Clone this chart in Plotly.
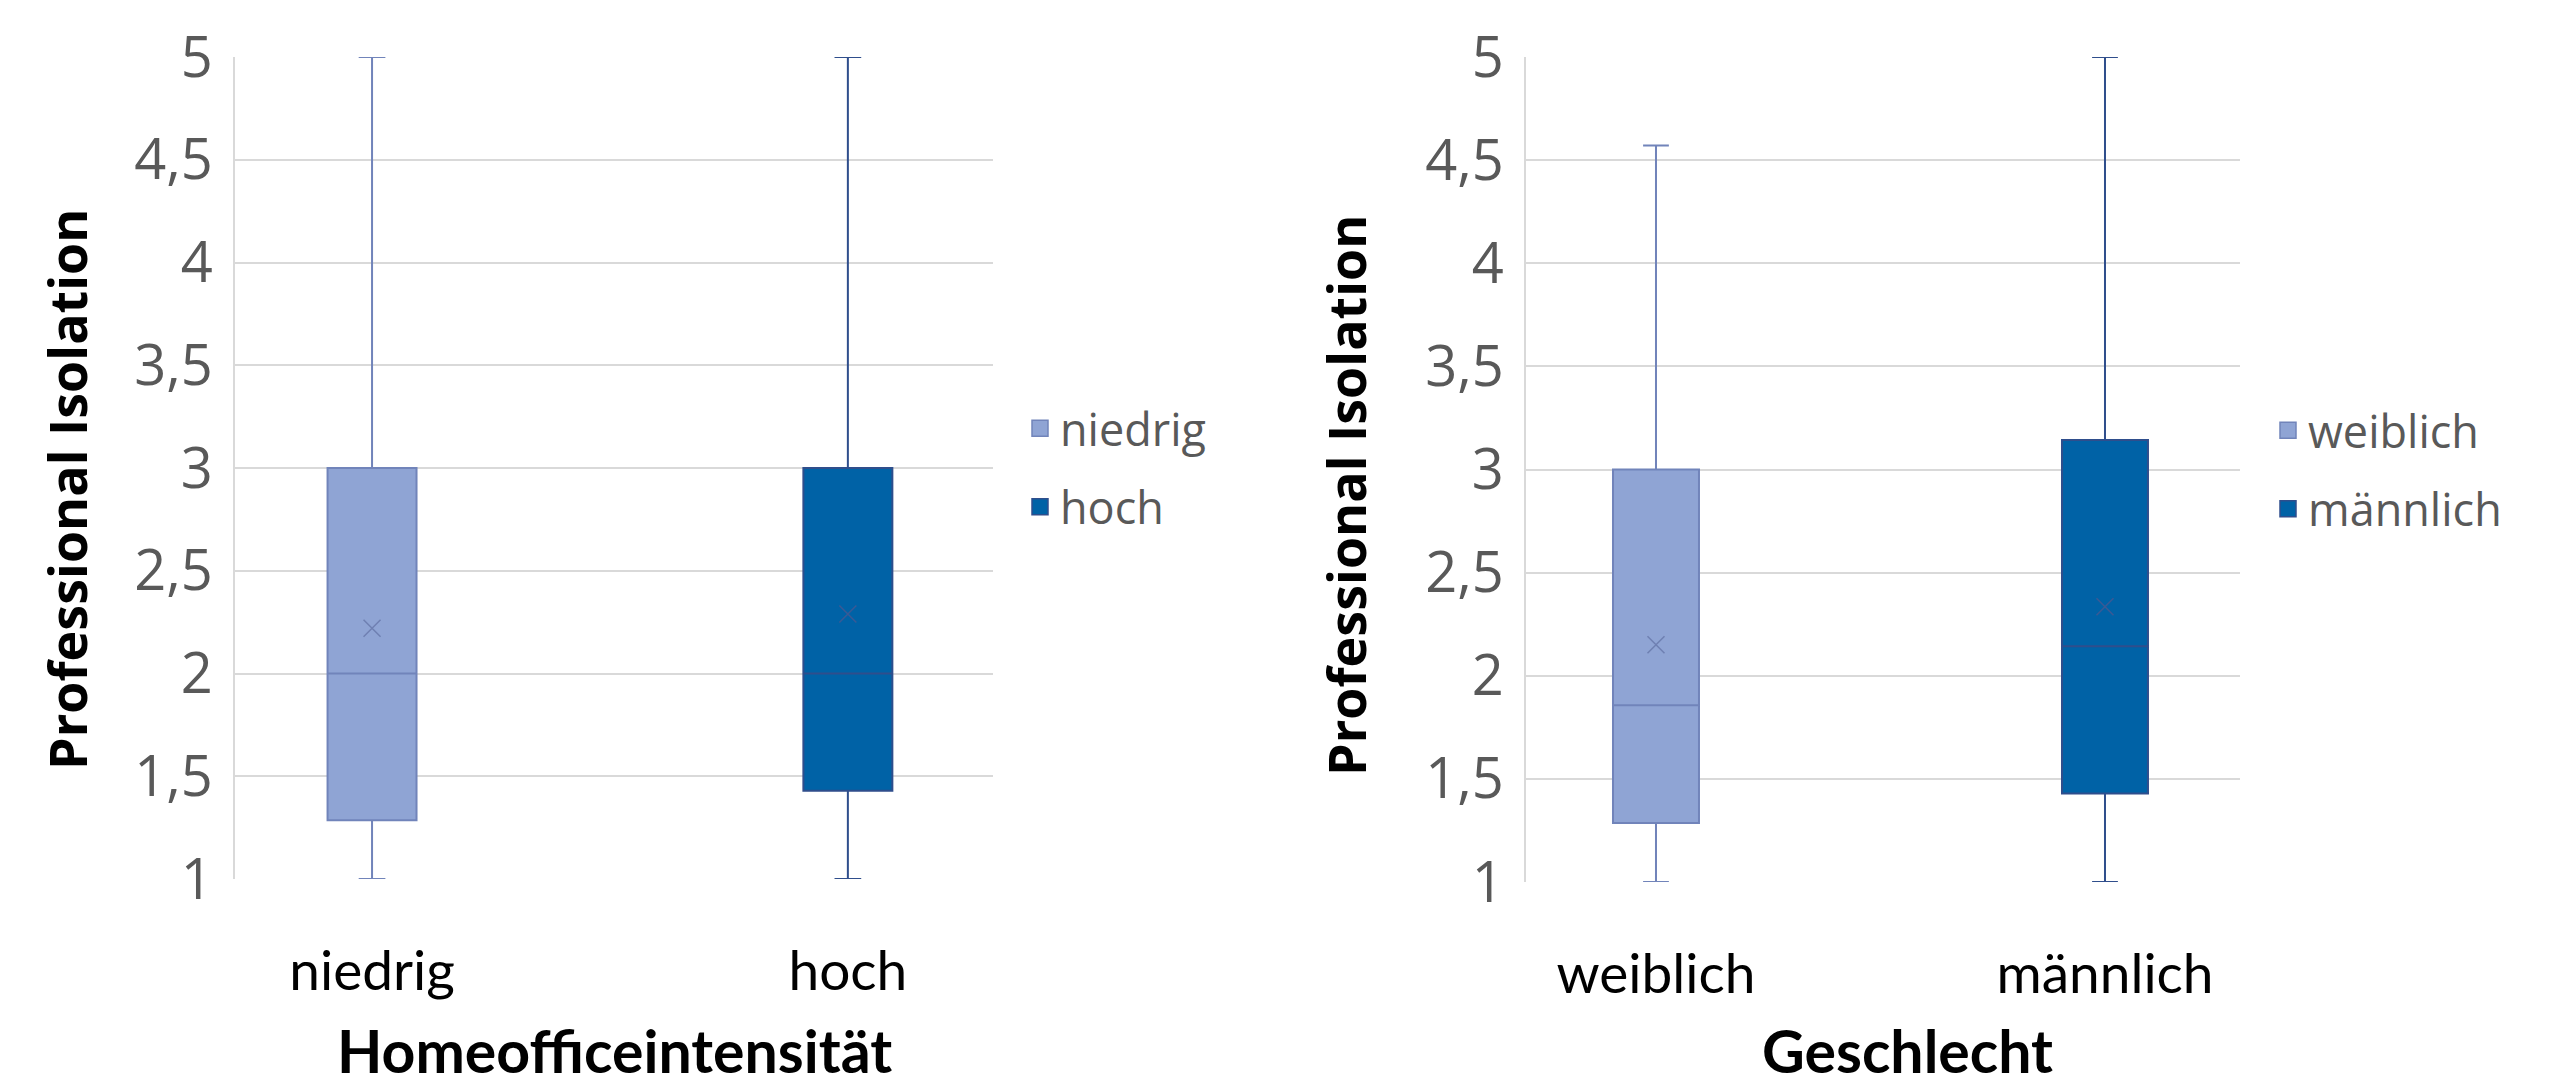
import plotly.graph_objects as go

# ---------------- data ----------------
groups_home = ["niedrig", "hoch"]
home_q1 = [1.286, 1.429]
home_median = [2.0, 2.0]
home_q3 = [3.0, 3.0]
home_lower = [1.0, 1.0]
home_upper = [5.0, 5.0]
home_mean = [2.22, 2.29]

groups_sex = ["weiblich", "männlich"]
sex_q1 = [1.286, 1.429]
sex_median = [1.857, 2.143]
sex_q3 = [3.0, 3.143]
sex_lower = [1.0, 1.0]
sex_upper = [4.571, 5.0]
sex_mean = [2.15, 2.335]

y_ticks = [1, 1.5, 2, 2.5, 3, 3.5, 4, 4.5, 5]
y_title = "Professional Isolation"
x_title_home = "Homeofficeintensität"
x_title_sex = "Geschlecht"

# ---------------- styles ----------------
fills = ["#8FA4D4", "#0062A6"]
lines = ["#7184BA", "#2F4E8C"]
mean_cols = ["#6F80B2", "#3A5A95"]
W, H = 2569, 1088

fig = go.Figure()


def add_panel(groups, q1, med, q3, lo, hi, mean, xa, ya, leg, width):
    for i, g in enumerate(groups):
        fig.add_trace(go.Box(
            x=[g], q1=[q1[i]], median=[med[i]], q3=[q3[i]],
            lowerfence=[lo[i]], upperfence=[hi[i]],
            name=g, width=width, whiskerwidth=0.3,
            fillcolor=fills[i], line=dict(color=lines[i], width=2),
            boxpoints=False, showlegend=False, hoverinfo="skip",
            xaxis=xa, yaxis=ya))
        fig.add_trace(go.Scatter(
            x=[g], y=[mean[i]], mode="markers",
            marker=dict(symbol="x-thin", size=17,
                        line=dict(color=mean_cols[i], width=1.5)),
            showlegend=False, hoverinfo="skip", xaxis=xa, yaxis=ya))
        fig.add_trace(go.Scatter(
            x=[None], y=[None], mode="markers", name=g,
            marker=dict(symbol="square", size=16, color=fills[i],
                        line=dict(color=lines[i], width=1.5)),
            legend=leg, legendgroup=leg + g, showlegend=True,
            xaxis=xa, yaxis=ya))


add_panel(groups_home, home_q1, home_median, home_q3, home_lower, home_upper,
          home_mean, "x", "y", "legend", 0.187)
add_panel(groups_sex, sex_q1, sex_median, sex_q3, sex_lower, sex_upper,
          sex_mean, "x2", "y2", "legend2", 0.1915)

tickfont = dict(family="Open Sans", size=56, color="#595959")
catfont = dict(family="Lato", size=55, color="#000000")
xtitlefont = dict(family="Lato", size=59, color="#000000", weight="bold")
ytitlefont = dict(family="Open Sans", size=52, color="#000000", weight="bold")


def yaxis_cfg(domain, anchor):
    return dict(domain=domain, range=[1, 5], tickvals=y_ticks, anchor=anchor,
                showgrid=True, gridcolor="#D9D9D9", gridwidth=2,
                showline=True, linecolor="#D9D9D9", linewidth=2,
                zeroline=False, ticks="", tickfont=tickfont,
                ticklabelstandoff=9, automargin=False)


def xaxis_cfg(domain, cats, rng, anchor):
    return dict(domain=domain, type="category", categoryorder="array",
                categoryarray=cats, range=rng, showgrid=False,
                showline=False, zeroline=False, ticks="",
                tickfont=catfont, ticklabelstandoff=55, anchor=anchor,
                automargin=False)


titles = [
    dict(text=x_title_home, x=614 / W, y=1 - 1050 / H, textangle=0,
         font=xtitlefont),
    dict(text=x_title_sex, x=1907 / W, y=1 - 1050 / H, textangle=0,
         font=xtitlefont),
    dict(text=y_title, x=66 / W, y=1 - 490 / H, textangle=-90,
         font=ytitlefont),
    dict(text=y_title, x=1346 / W, y=1 - 496 / H, textangle=-90,
         font=ytitlefont),
]
annotations = [dict(a, xref="paper", yref="paper", xanchor="center",
                    yanchor="middle", showarrow=False) for a in titles]

fig.update_layout(
    width=W, height=H, margin=dict(l=0, r=0, t=0, b=0, autoexpand=False),
    paper_bgcolor="white", plot_bgcolor="white",
    separators=",.",
    boxmode="overlay",
    xaxis=xaxis_cfg([235 / W, 993 / W], groups_home, [-0.288, 1.305], "y"),
    yaxis=yaxis_cfg([1 - 879 / H, 1 - 57 / H], "x"),
    xaxis2=xaxis_cfg([1526 / W, 2240 / W], groups_sex, [-0.2895, 1.3007],
                     "y2"),
    yaxis2=yaxis_cfg([1 - 882 / H, 1 - 57 / H], "x2"),
    legend=dict(x=1020 / W, y=1 - 467.5 / H, xanchor="left", yanchor="middle",
                font=dict(family="Open Sans", size=45, color="#595959"),
                tracegroupgap=17, bgcolor="rgba(0,0,0,0)"),
    legend2=dict(x=2268 / W, y=1 - 469.5 / H, xanchor="left", yanchor="middle",
                 font=dict(family="Open Sans", size=45, color="#595959"),
                 tracegroupgap=17, bgcolor="rgba(0,0,0,0)"),
    annotations=annotations,
)

fig.write_html(
    "out.html",
    config={"displayModeBar": False},
    post_script="document.body.style.margin='0';"
                "document.body.style.overflow='hidden';",
)
